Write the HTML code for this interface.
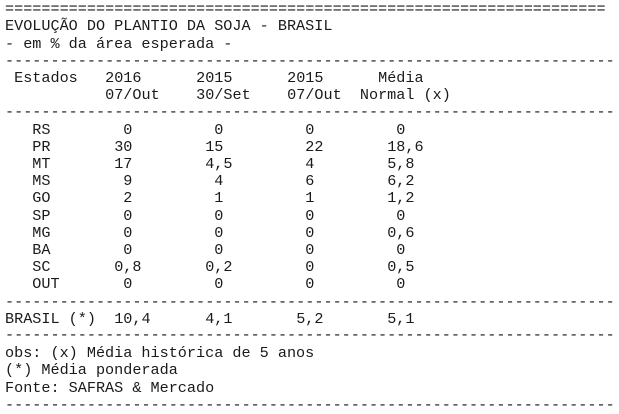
<!DOCTYPE html>
<html>
<head>
<meta charset="utf-8">
<style>
html,body{margin:0;padding:0;background:#fff;}
body{width:619px;height:412px;position:relative;overflow:hidden;}
span{position:absolute;white-space:pre;font-family:"Liberation Mono","Courier New",monospace;font-size:15.17px;line-height:17.2px;color:#1a1a1a;}
</style>
</head>
<body>
<!-- line 1 -->
<span style="left:5px;top:1.2px">===========</span>
<span style="left:105.1px;top:1.2px">===========</span>
<span style="left:205.2px;top:1.2px">===========</span>
<span style="left:305.3px;top:1.2px">===========</span>
<span style="left:405.4px;top:1.2px">===========</span>
<span style="left:505.5px;top:1.2px">===========</span>
<!-- line 2,3 -->
<span style="left:5px;top:18.4px">EVOLUÇÃO DO PLANTIO DA SOJA - BRASIL</span>
<span style="left:5px;top:35.6px">- em % da área esperada -</span>
<!-- line 4 -->
<span style="left:5px;top:52.8px">-----------</span>
<span style="left:105.1px;top:52.8px">-----------</span>
<span style="left:205.2px;top:52.8px">-----------</span>
<span style="left:305.3px;top:52.8px">-----------</span>
<span style="left:405.4px;top:52.8px">-----------</span>
<span style="left:505.5px;top:52.8px">-----------</span>
<span style="left:605.6px;top:52.8px">-</span>
<!-- header -->
<span style="left:14.1px;top:70px">Estados</span>
<span style="left:105.1px;top:70px">2016</span>
<span style="left:196.1px;top:70px">2015</span>
<span style="left:287.1px;top:70px">2015</span>
<span style="left:378.1px;top:70px">Média</span>
<span style="left:105.1px;top:87.2px">07/Out</span>
<span style="left:196.1px;top:87.2px">30/Set</span>
<span style="left:287.1px;top:87.2px">07/Out</span>
<span style="left:359.9px;top:87.2px">Normal (x)</span>
<!-- line 7 -->
<span style="left:5px;top:104.4px">-----------</span>
<span style="left:105.1px;top:104.4px">-----------</span>
<span style="left:205.2px;top:104.4px">-----------</span>
<span style="left:305.3px;top:104.4px">-----------</span>
<span style="left:405.4px;top:104.4px">-----------</span>
<span style="left:505.5px;top:104.4px">-----------</span>
<span style="left:605.6px;top:104.4px">-</span>
<!-- RS -->
<span style="left:32.3px;top:121.6px">RS</span>
<span style="left:123.3px;top:121.6px">0</span>
<span style="left:214.3px;top:121.6px">0</span>
<span style="left:305.3px;top:121.6px">0</span>
<span style="left:396.3px;top:121.6px">0</span>
<!-- PR -->
<span style="left:32.3px;top:138.8px">PR</span>
<span style="left:114.2px;top:138.8px">30</span>
<span style="left:205.2px;top:138.8px">15</span>
<span style="left:305.3px;top:138.8px">22</span>
<span style="left:387.2px;top:138.8px">18,6</span>
<!-- MT -->
<span style="left:32.3px;top:156px">MT</span>
<span style="left:114.2px;top:156px">17</span>
<span style="left:205.2px;top:156px">4,5</span>
<span style="left:305.3px;top:156px">4</span>
<span style="left:387.2px;top:156px">5,8</span>
<!-- MS -->
<span style="left:32.3px;top:173.2px">MS</span>
<span style="left:123.3px;top:173.2px">9</span>
<span style="left:214.3px;top:173.2px">4</span>
<span style="left:305.3px;top:173.2px">6</span>
<span style="left:387.2px;top:173.2px">6,2</span>
<!-- GO -->
<span style="left:32.3px;top:190.4px">GO</span>
<span style="left:123.3px;top:190.4px">2</span>
<span style="left:214.3px;top:190.4px">1</span>
<span style="left:305.3px;top:190.4px">1</span>
<span style="left:387.2px;top:190.4px">1,2</span>
<!-- SP -->
<span style="left:32.3px;top:207.6px">SP</span>
<span style="left:123.3px;top:207.6px">0</span>
<span style="left:214.3px;top:207.6px">0</span>
<span style="left:305.3px;top:207.6px">0</span>
<span style="left:396.3px;top:207.6px">0</span>
<!-- MG -->
<span style="left:32.3px;top:224.8px">MG</span>
<span style="left:123.3px;top:224.8px">0</span>
<span style="left:214.3px;top:224.8px">0</span>
<span style="left:305.3px;top:224.8px">0</span>
<span style="left:387.2px;top:224.8px">0,6</span>
<!-- BA -->
<span style="left:32.3px;top:242px">BA</span>
<span style="left:123.3px;top:242px">0</span>
<span style="left:214.3px;top:242px">0</span>
<span style="left:305.3px;top:242px">0</span>
<span style="left:396.3px;top:242px">0</span>
<!-- SC -->
<span style="left:32.3px;top:259.2px">SC</span>
<span style="left:114.2px;top:259.2px">0,8</span>
<span style="left:205.2px;top:259.2px">0,2</span>
<span style="left:305.3px;top:259.2px">0</span>
<span style="left:387.2px;top:259.2px">0,5</span>
<!-- OUT -->
<span style="left:32.3px;top:276.4px">OUT</span>
<span style="left:123.3px;top:276.4px">0</span>
<span style="left:214.3px;top:276.4px">0</span>
<span style="left:305.3px;top:276.4px">0</span>
<span style="left:396.3px;top:276.4px">0</span>
<!-- line 18 -->
<span style="left:5px;top:293.6px">-----------</span>
<span style="left:105.1px;top:293.6px">-----------</span>
<span style="left:205.2px;top:293.6px">-----------</span>
<span style="left:305.3px;top:293.6px">-----------</span>
<span style="left:405.4px;top:293.6px">-----------</span>
<span style="left:505.5px;top:293.6px">-----------</span>
<span style="left:605.6px;top:293.6px">-</span>
<!-- BRASIL -->
<span style="left:5px;top:310.8px">BRASIL (*)</span>
<span style="left:114.2px;top:310.8px">10,4</span>
<span style="left:205.2px;top:310.8px">4,1</span>
<span style="left:296.2px;top:310.8px">5,2</span>
<span style="left:387.2px;top:310.8px">5,1</span>
<!-- line 20 -->
<span style="left:5px;top:327px">-----------</span>
<span style="left:105.1px;top:327px">-----------</span>
<span style="left:205.2px;top:327px">-----------</span>
<span style="left:305.3px;top:327px">-----------</span>
<span style="left:405.4px;top:327px">-----------</span>
<span style="left:505.5px;top:327px">-----------</span>
<span style="left:605.6px;top:327px">-</span>
<!-- footer -->
<span style="left:5px;top:345.2px">obs: (x) Média histórica de 5 anos</span>
<span style="left:5px;top:362.4px">(*) Média ponderada</span>
<span style="left:5px;top:379.6px">Fonte: SAFRAS &amp; Mercado</span>
<!-- line 24 -->
<span style="left:5px;top:396.8px">-----------</span>
<span style="left:105.1px;top:396.8px">-----------</span>
<span style="left:205.2px;top:396.8px">-----------</span>
<span style="left:305.3px;top:396.8px">-----------</span>
<span style="left:405.4px;top:396.8px">-----------</span>
<span style="left:505.5px;top:396.8px">-----------</span>
<span style="left:605.6px;top:396.8px">-</span>
</body>
</html>
